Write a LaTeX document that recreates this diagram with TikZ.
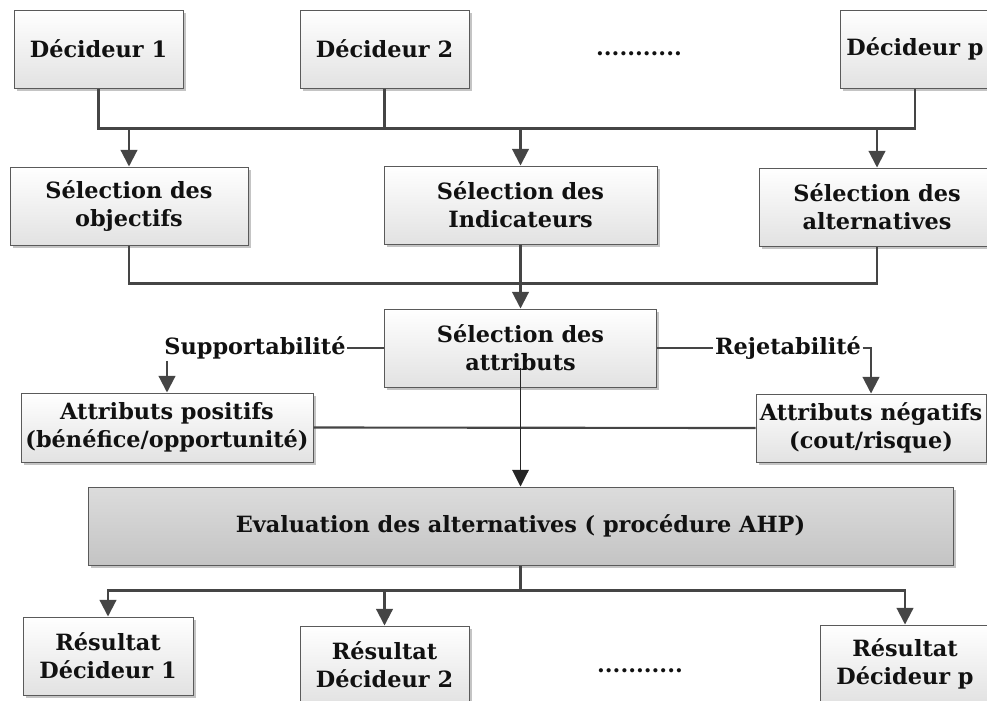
\documentclass[tikz,border=0pt]{standalone}
\usepackage{fontspec}
\setmainfont{DejaVu Serif}
\usetikzlibrary{arrows.meta,shadows}

\definecolor{linegray}{HTML}{454545}
\definecolor{framegray}{HTML}{5A5A5A}
\definecolor{boxtop}{HTML}{FFFFFF}
\definecolor{boxbottom}{HTML}{E2E2E2}
\definecolor{evaltop}{HTML}{DCDCDC}
\definecolor{evalbottom}{HTML}{C4C4C4}
\definecolor{shadowgray}{HTML}{C4C4C4}
\definecolor{textblack}{HTML}{111111}

\begin{document}
\begin{tikzpicture}[x=0.75pt,y=-0.75pt,
  every node/.style={font=\fontsize{16.8}{21}\selectfont\bfseries, text=textblack},
  bsize/.style 2 args={minimum width=#1*0.75pt, minimum height=#2*0.75pt},
  box/.style={draw=framegray, line width=0.75pt, top color=boxtop,
    bottom color=boxbottom, align=center, inner sep=0pt,
    drop shadow={shadow xshift=2.2pt, shadow yshift=-2.2pt,
      fill=shadowgray, opacity=1}},
  evalbox/.style={box, top color=evaltop, bottom color=evalbottom},
  lbl/.style={inner sep=1pt},
  dots/.style={inner sep=0pt, anchor=base},
  conn/.style={draw=linegray, line width=1.6pt},
  arr/.style={conn, -{Triangle[length=12.5pt,width=12.5pt]}},
  thinarr/.style={draw=black!85, line width=0.8pt,
    -{Triangle[length=12.5pt,width=12.5pt]}}
]
\useasboundingbox (0,0) rectangle (987,700);

% decision makers
\node[box, bsize={169}{78}] (d1) at (98.5,49) {Décideur 1};
\node[box, bsize={169}{78}] (d2) at (384.5,49) {Décideur 2};
\node[dots] (dtop) at (639,55) {...........};
\node[box, bsize={150}{78}] (dp) at (915,49) {Décideur p};

% selection steps
\node[box, bsize={238}{78}] (obj) at (129,206) {Sélection des\\objectifs};
\node[box, bsize={273}{78}] (ind) at (520.5,205) {Sélection des\\Indicateurs};
\node[box, bsize={236}{78}] (alt) at (877,207) {Sélection des\\alternatives};
\node[box, bsize={272}{78}] (attr) at (520.5,348) {Sélection des\\attributs};

% attribute split
\node[lbl] (sup) at (255,348) {Supportabilité};
\node[lbl] (rej) at (788,348) {Rejetabilité};
\node[box, bsize={292}{69}] (pos) at (167,427.5) {Attributs positifs\\(bénéfice/opportunité)};
\node[box, bsize={230}{68}] (neg) at (871,428) {Attributs négatifs\\(cout/risque)};

% evaluation and results
\node[evalbox, bsize={865}{78}] (eval) at (520.5,526) {Evaluation des alternatives ( procédure AHP)};
\node[box, bsize={170}{78}] (r1) at (108,656) {Résultat\\Décideur 1};
\node[box, bsize={169}{78}] (r2) at (384.5,665) {Résultat\\Décideur 2};
\node[dots] (dbot) at (640,672) {...........};
\node[box, bsize={170}{78}] (rp) at (905,664) {Résultat\\Décideur p};

% top bus
\draw[conn] (d1.south) -- ++(0,40) coordinate (bus1) -| (dp.south);
\draw[conn] (d2.south) -- (d2.south |- bus1);
\draw[arr] (obj.north |- bus1) -- (obj.north);
\draw[arr] (ind.north |- bus1) -- (ind.north);
\draw[arr] (alt.north |- bus1) -- (alt.north);

% middle bus
\draw[conn] (obj.south) -- ++(0,38) coordinate (bus2) -| (alt.south);
\draw[arr] (ind.south) -- (attr.north);

% attribute branches
\draw[conn] (attr.west) -- (sup.east);
\draw[arr] (pos.north |- sup.south) -- (pos.north);
\draw[conn] (attr.east) -- (rej.west);
\draw[arr] (rej.east) -| (neg.north);
\draw[conn] (pos.east) -- (neg.west);
\path (attr.center) ++(0,20) coordinate (attrtail);
\draw[thinarr] (attrtail) -- (eval.north);

% bottom bus
\draw[conn] (eval.south) -- ++(0,25) coordinate (bus3);
\draw[arr] (bus3) -| (r1.north);
\draw[arr] (bus3) -| (rp.north);
\draw[arr] (r2.north |- bus3) -- (r2.north);
\end{tikzpicture}
\end{document}
